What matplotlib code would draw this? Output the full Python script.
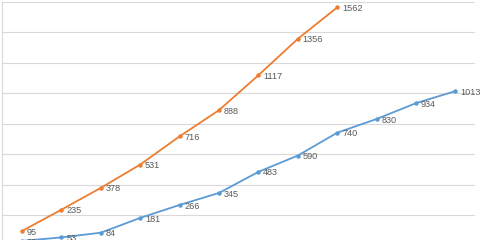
import matplotlib

matplotlib.use("Agg")
import matplotlib.pyplot as plt

# values (cropped Excel line chart, 12 categories)
categories = list(range(12))
orange = [95, 235, 378, 531, 716, 888, 1117, 1356, 1562]
blue = [30, 53, 84, 181, 266, 345, 483, 590, 740, 830, 934, 1013]
y_ticks = [0, 200, 400, 600, 800, 1000, 1200, 1400, 1600]

ORANGE = "#ED7D31"
BLUE = "#5B9BD5"
GRID = "#D9D9D9"
LABEL = "#595959"

plt.rcParams["font.family"] = ["Liberation Sans", "DejaVu Sans"]

fig = plt.figure(figsize=(4.8, 2.4), dpi=100)
# plot area runs past the bottom edge of the picture, like the cropped original
ax = fig.add_axes([0.0048, -0.0229, 0.985, 1.016])
ax.set_xlim(-0.5, 11.5)
ax.set_ylim(0, 1600)

for vals, col in [(blue, BLUE), (orange, ORANGE)]:
    xs = categories[: len(vals)]
    ax.plot(xs, vals, color=col, lw=1.3, marker="o", ms=2.2, zorder=3)
    for x, v in zip(xs, vals):
        ax.annotate(str(v), (x, v), xytext=(3.5, -0.8), textcoords="offset points",
                    ha="left", va="center", fontsize=6.6, color=LABEL, zorder=4)

ax.set_yticks(y_ticks)
ax.grid(axis="y", color=GRID, lw=0.8)
ax.set_axisbelow(True)
ax.tick_params(left=False, bottom=False, labelleft=False, labelbottom=False)
for side in ["top", "right", "bottom"]:
    ax.spines[side].set_visible(False)
ax.spines["left"].set_color(GRID)
ax.spines["left"].set_linewidth(0.8)

fig.savefig("out.png", dpi=100)
